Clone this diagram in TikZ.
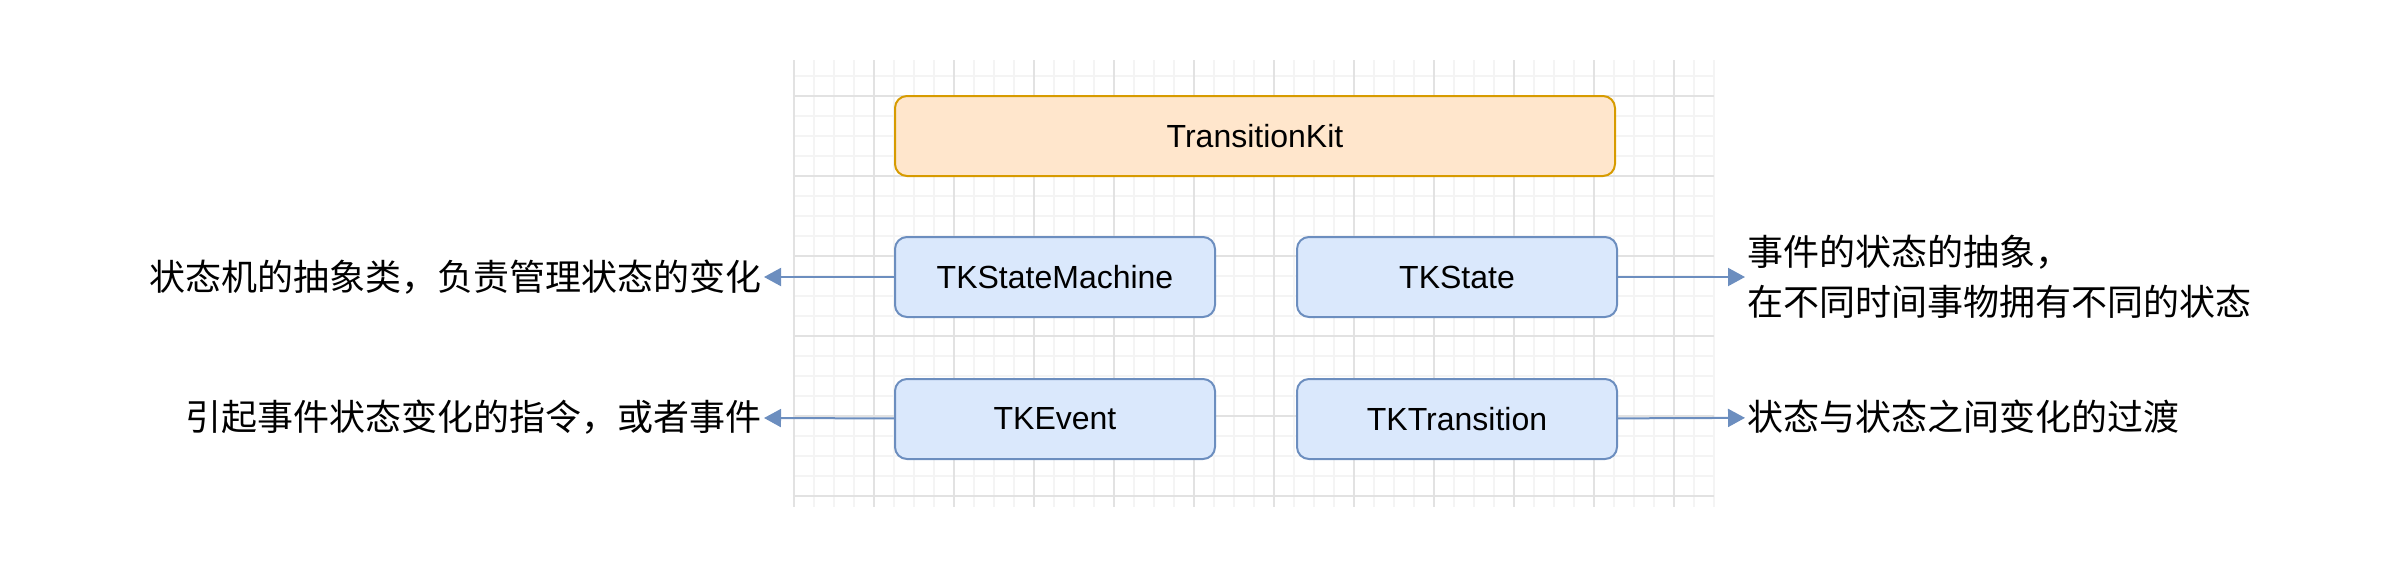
\documentclass[tikz,border=0pt]{standalone}
\usepackage{fontspec}
\setmainfont{Liberation Sans}
\newfontfamily\cjk{Noto Sans CJK SC}
\usepackage{xcolor}
\usepackage{tikz}
\usetikzlibrary{positioning, arrows.meta}
\definecolor{BoxBlue}{HTML}{DAE8FC}
\definecolor{LineBlue}{HTML}{6C8EBF}
\definecolor{BoxOrange}{HTML}{FFE6CC}
\definecolor{LineOrange}{HTML}{D79B00}
\definecolor{GridMinor}{HTML}{F4F4F4}
\definecolor{GridMajor}{HTML}{E2E2E2}
\tikzset{
  classbox/.style={draw=LineBlue, fill=BoxBlue, line width=2pt, rounded corners=12pt,
    minimum width=320pt, minimum height=80pt, inner sep=0pt, font=\fontsize{32}{38}\selectfont},
  kitbox/.style={classbox, draw=LineOrange, fill=BoxOrange, minimum width=720pt},
  desc/.style={font=\cjk\fontsize{36}{50}\selectfont, inner sep=2pt, align=left},
  link/.style={draw=LineBlue, line width=2pt, -{Triangle[length=17pt, width=18pt]}},
  gridline/.style={line width=1.5pt},
}

\begin{document}
\begin{tikzpicture}[x=1pt, y=-1pt]
        \useasboundingbox (0,0) rectangle (2400,566);
        % background grid
        \foreach \k in {0,...,46} \draw[gridline, GridMinor] (794+20*\k,60) -- (794+20*\k,507);
        \foreach \k in {0,...,21} \draw[gridline, GridMinor] (794,76+20*\k) -- (1714,76+20*\k);
        \foreach \k in {0,...,11} \draw[gridline, GridMajor] (794+80*\k,60) -- (794+80*\k,507);
        \foreach \k in {1,...,6} \draw[gridline, GridMajor] (794,16+80*\k) -- (1714,16+80*\k);

        \node[kitbox] (kit) at (1255,136) {TransitionKit};
        \node[classbox] (machine) at (1055,277) {TKStateMachine};
        \node[classbox, right=80pt of machine] (state) {TKState};
        \node[classbox, below=60pt of machine] (event) {TKEvent};
        \node[classbox, right=80pt of event] (transition) {TKTransition};

        \node[desc, anchor=east] (machineNote) at (764,277) {状态机的抽象类，负责管理状态的变化};
        \node[desc, anchor=east] (eventNote) at (764,417) {引起事件状态变化的指令，或者事件};
        \node[desc, anchor=west] (stateNote) at (1745,277) {事件的状态的抽象，\\在不同时间事物拥有不同的状态};
        \node[desc, anchor=west] (transitionNote) at (1745,417) {状态与状态之间变化的过渡};

        \draw[link] (machine) -- (machineNote);
        \draw[link] (event) -- (eventNote);
        \draw[link] (state) -- (state.east -| stateNote.west);
        \draw[link] (transition) -- (transitionNote);
      \end{tikzpicture}
\end{document}
